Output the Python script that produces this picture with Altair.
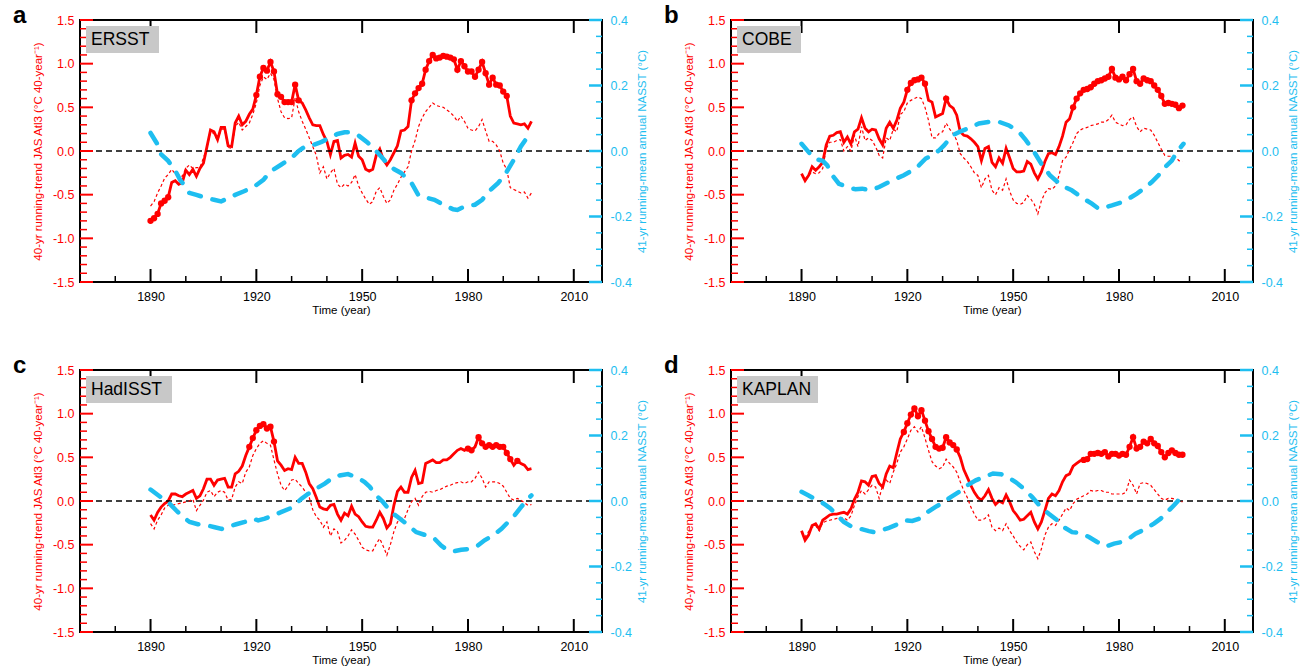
import altair as alt
import pandas as pd

FONT = "Liberation Sans"
RED = "#ff0000"
CYAN = "#1ebef0"
W, H = 522, 262

YEARS = list(range(1890, 1999))

X_MAJOR = [1890, 1920, 1950, 1980, 2010]
X_MINOR = [1880, 1900, 1910, 1930, 1940, 1960, 1970, 1990, 2000]
L_MAJOR = [-1.5, -1.0, -0.5, 0.0, 0.5, 1.0, 1.5]
L_MINOR = [-1.4, -1.3, -1.2, -1.1, -0.9, -0.8, -0.7, -0.6, -0.4, -0.3, -0.2, -0.1,
           0.1, 0.2, 0.3, 0.4, 0.6, 0.7, 0.8, 0.9, 1.1, 1.2, 1.3, 1.4]
R_MAJOR = [-0.4, -0.2, 0.0, 0.2, 0.4]
R_MINOR = [-0.35, -0.3, -0.25, -0.15, -0.1, -0.05, 0.05, 0.1, 0.15, 0.25, 0.3, 0.35]

# ---------------- ERSST ----------------
ERSST_TREND = [
    -0.80, -0.77, -0.72, -0.60, -0.57, -0.53, -0.36, -0.34, -0.38, -0.36,
    -0.22, -0.27, -0.21, -0.29, -0.20, -0.14, 0.05, 0.24, 0.22, 0.13,
    0.27, 0.27, 0.06, 0.05, 0.32, 0.40, 0.30, 0.34, 0.42, 0.48,
    0.64, 0.85, 0.95, 0.92, 1.02, 0.91, 0.65, 0.62, 0.56, 0.56,
    0.56, 0.76, 0.58, 0.55, 0.47, 0.38, 0.30, 0.29, 0.29, 0.19,
    0.11, -0.04, 0.11, 0.12, -0.08, -0.05, -0.04, -0.07, 0.09, -0.06,
    -0.10, -0.21, -0.23, -0.21, -0.05, 0.02, -0.10, -0.16, -0.10, -0.02,
    0.06, 0.23, 0.24, 0.28, 0.58, 0.66, 0.72, 0.77, 0.93, 1.03,
    1.10, 1.06, 1.07, 1.09, 1.08, 1.07, 1.05, 0.93, 1.03, 0.97,
    0.91, 0.91, 0.85, 0.93, 1.02, 0.89, 0.76, 0.84, 0.76, 0.75,
    0.68, 0.63, 0.40, 0.32, 0.31, 0.30, 0.31, 0.26, 0.34]
ERSST_DOTTED = [
    -0.63, -0.58, -0.48, -0.40, -0.31, -0.27, -0.21, -0.26, -0.27, -0.29,
    -0.20, -0.16, -0.20, -0.19, -0.19, -0.08, 0.04, 0.22, 0.20, 0.12,
    0.25, 0.25, 0.04, 0.03, 0.28, 0.33, 0.24, 0.28, 0.32, 0.42,
    0.55, 0.75, 0.85, 0.82, 0.89, 0.82, 0.60, 0.45, 0.38, 0.37,
    0.38, 0.61, 0.45, 0.34, 0.25, 0.15, 0.05, -0.05, -0.25, -0.18,
    -0.32, -0.25, -0.20, -0.38, -0.42, -0.38, -0.40, -0.36, -0.27, -0.40,
    -0.48, -0.55, -0.61, -0.58, -0.46, -0.42, -0.52, -0.60, -0.56, -0.45,
    -0.38, -0.30, -0.24, -0.18, 0.00, 0.12, 0.28, 0.38, 0.45, 0.50,
    0.55, 0.52, 0.51, 0.50, 0.47, 0.44, 0.40, 0.34, 0.40, 0.34,
    0.26, 0.24, 0.23, 0.28, 0.36, 0.23, 0.11, 0.11, 0.07, 0.00,
    -0.14, -0.21, -0.42, -0.44, -0.46, -0.48, -0.47, -0.54, -0.48]
ERSST_NASST = [
    (1890, 0.055), (1892, 0.02), (1893, -0.01), (1895, -0.03), (1897, -0.06),
    (1898.5, -0.09), (1900, -0.11), (1901, -0.128), (1903, -0.134), (1906, -0.144),
    (1908, -0.149), (1910, -0.154), (1912, -0.144), (1914, -0.134), (1916.5, -0.123),
    (1919.5, -0.108), (1922, -0.088), (1924, -0.062), (1927, -0.042), (1930, -0.021),
    (1932, 0.0), (1934, 0.015), (1936, 0.018), (1938.5, 0.028), (1941, 0.042),
    (1943, 0.052), (1945, 0.057), (1947, 0.057), (1949, 0.047), (1951.5, 0.026),
    (1954.5, -0.006), (1957, -0.037), (1959, -0.055), (1961, -0.067), (1964, -0.098),
    (1966, -0.136), (1968, -0.142), (1970.5, -0.149), (1973, -0.164), (1975.8, -0.178),
    (1977, -0.18), (1979.5, -0.167), (1982, -0.164), (1984, -0.149), (1986, -0.123),
    (1988.5, -0.098), (1990.5, -0.072), (1993, -0.027), (1995, 0.014), (1998, 0.06)]
ERSST_SIG = (list(range(1890, 1896)) + list(range(1920, 1933)) + list(range(1964, 1992)))

# ---------------- COBE ----------------
COBE_TREND = [
    -0.26, -0.34, -0.28, -0.18, -0.22, -0.18, -0.13, 0.07, 0.17, 0.18,
    0.21, 0.22, 0.10, 0.16, 0.08, 0.22, 0.25, 0.38, 0.26, 0.22,
    0.25, 0.24, 0.14, 0.07, 0.26, 0.33, 0.26, 0.35, 0.49, 0.56,
    0.70, 0.78, 0.81, 0.82, 0.84, 0.77, 0.58, 0.56, 0.39, 0.41,
    0.43, 0.60, 0.52, 0.49, 0.41, 0.22, 0.18, 0.17, 0.14, 0.10,
    0.05, -0.11, 0.03, 0.05, -0.13, -0.18, -0.08, -0.14, 0.03, -0.08,
    -0.20, -0.24, -0.24, -0.23, -0.12, -0.15, -0.25, -0.32, -0.24, -0.12,
    -0.03, -0.02, -0.04, 0.05, 0.17, 0.33, 0.37, 0.50, 0.60, 0.66,
    0.70, 0.71, 0.73, 0.77, 0.80, 0.81, 0.83, 0.85, 0.94, 0.84,
    0.82, 0.85, 0.81, 0.88, 0.94, 0.80, 0.77, 0.83, 0.81, 0.80,
    0.75, 0.70, 0.63, 0.54, 0.55, 0.54, 0.53, 0.49, 0.52]
COBE_DOTTED = [
    -0.27, -0.32, -0.28, -0.24, -0.26, -0.25, -0.20, 0.03, 0.10, 0.10,
    0.12, 0.13, 0.00, 0.05, 0.00, 0.18, 0.05, 0.28, 0.12, 0.15,
    0.12, 0.05, -0.05, -0.08, 0.15, 0.12, 0.25, 0.22, 0.42, 0.45,
    0.55, 0.58, 0.60, 0.62, 0.60, 0.50, 0.35, 0.15, 0.15, 0.20,
    0.22, 0.32, 0.25, 0.20, 0.12, -0.03, -0.08, -0.12, -0.18, -0.25,
    -0.28, -0.42, -0.32, -0.28, -0.45, -0.50, -0.42, -0.45, -0.32, -0.46,
    -0.56, -0.60, -0.61, -0.59, -0.51, -0.55, -0.61, -0.72, -0.57, -0.48,
    -0.43, -0.44, -0.40, -0.28, -0.11, -0.07, 0.02, 0.10, 0.20, 0.24,
    0.26, 0.27, 0.29, 0.30, 0.31, 0.33, 0.33, 0.36, 0.41, 0.33,
    0.31, 0.29, 0.30, 0.36, 0.39, 0.28, 0.22, 0.26, 0.25, 0.24,
    0.18, 0.10, 0.02, -0.05, -0.06, -0.06, -0.07, -0.11, -0.12]
COBE_NASST = [
    (1890, 0.022), (1891.6, 0.002), (1893.5, -0.023), (1896, -0.03), (1897.3, -0.044),
    (1898.7, -0.074), (1900.6, -0.10), (1903, -0.11), (1905.3, -0.117), (1907.2, -0.115),
    (1909.6, -0.12), (1912, -0.11), (1913.8, -0.10), (1916.7, -0.085), (1919, -0.074),
    (1921.4, -0.059), (1923.3, -0.044), (1925.2, -0.023), (1927.1, -0.013), (1929, 0.002),
    (1930.4, 0.017), (1932.8, 0.048), (1934.7, 0.058), (1937.5, 0.07), (1940.3, 0.084),
    (1943.2, 0.089), (1946, 0.089), (1948.8, 0.078), (1951.7, 0.058), (1953.6, 0.033),
    (1955.5, 0.005), (1958, -0.039), (1960.4, -0.074), (1963.7, -0.105), (1966.6, -0.12),
    (1969.4, -0.141), (1972.3, -0.161), (1974.2, -0.176), (1976.1, -0.172), (1978, -0.166),
    (1980.3, -0.158), (1982.7, -0.146), (1985.1, -0.13), (1987, -0.115), (1989.3, -0.095),
    (1991.2, -0.074), (1993.1, -0.049), (1995, -0.029), (1996.4, -0.003), (1998.3, 0.022)]
COBE_SIG = list(range(1920, 1926)) + [1931] + list(range(1967, 1999))

# ---------------- HadISST ----------------
HAD_TREND = [
    -0.16, -0.22, -0.13, -0.07, -0.03, 0.00, 0.08, 0.08, 0.06, 0.05,
    0.08, 0.10, 0.12, 0.03, 0.06, 0.14, 0.25, 0.25, 0.18, 0.24,
    0.25, 0.26, 0.16, 0.16, 0.31, 0.34, 0.40, 0.52, 0.62, 0.72,
    0.81, 0.86, 0.88, 0.83, 0.85, 0.68, 0.46, 0.41, 0.35, 0.37,
    0.36, 0.50, 0.43, 0.43, 0.33, 0.20, 0.14, 0.04, -0.07, -0.09,
    -0.10, -0.05, -0.04, -0.15, -0.22, -0.14, -0.17, -0.06, -0.15, -0.18,
    -0.24, -0.29, -0.30, -0.30, -0.22, -0.13, -0.20, -0.31, -0.26, -0.05,
    0.11, 0.16, 0.10, 0.10, 0.27, 0.35, 0.20, 0.21, 0.43, 0.45,
    0.47, 0.44, 0.44, 0.47, 0.47, 0.50, 0.54, 0.58, 0.60, 0.58,
    0.60, 0.58, 0.62, 0.73, 0.66, 0.62, 0.64, 0.62, 0.64, 0.62,
    0.62, 0.55, 0.48, 0.41, 0.46, 0.43, 0.41, 0.36, 0.37]
HAD_DOTTED = [
    -0.26, -0.32, -0.22, -0.16, -0.08, -0.05, -0.05, -0.04, -0.03, -0.02,
    -0.01, 0.00, 0.02, -0.11, -0.05, 0.01, 0.10, 0.12, 0.05, 0.10,
    0.12, 0.10, 0.01, 0.02, 0.16, 0.22, 0.20, 0.33, 0.39, 0.52,
    0.60, 0.66, 0.69, 0.66, 0.64, 0.47, 0.31, 0.18, 0.12, 0.17,
    0.24, 0.25, 0.20, 0.16, 0.10, 0.04, -0.10, -0.18, -0.22, -0.30,
    -0.24, -0.40, -0.32, -0.35, -0.48, -0.45, -0.40, -0.33, -0.38, -0.45,
    -0.53, -0.56, -0.57, -0.57, -0.49, -0.43, -0.52, -0.62, -0.50, -0.35,
    -0.24, -0.20, -0.20, -0.10, -0.01, 0.03, -0.05, 0.05, 0.10, 0.11,
    0.10, 0.12, 0.13, 0.15, 0.17, 0.18, 0.20, 0.21, 0.22, 0.20,
    0.22, 0.22, 0.26, 0.33, 0.26, 0.16, 0.22, 0.22, 0.22, 0.20,
    0.17, 0.10, 0.03, 0.01, 0.03, 0.01, -0.02, -0.05, -0.04]
HAD_NASST = [
    (1890, 0.035), (1891.6, 0.022), (1893.5, 0.007), (1895.4, -0.008), (1897.3, -0.029),
    (1899.2, -0.049), (1901.1, -0.064), (1903.4, -0.071), (1905.8, -0.074), (1908.2, -0.08),
    (1910.2, -0.085), (1912.4, -0.077), (1914.3, -0.071), (1916.7, -0.064), (1919, -0.054),
    (1920.5, -0.059), (1922.4, -0.054), (1924.7, -0.044), (1927, -0.034), (1929.5, -0.023),
    (1931.3, -0.008), (1932.8, 0.007), (1934.7, 0.022), (1937, 0.038), (1939.4, 0.053),
    (1941.3, 0.068), (1943.6, 0.078), (1946, 0.082), (1948.4, 0.073), (1950.7, 0.058),
    (1952.2, 0.043), (1953.5, 0.022), (1955.9, -0.003), (1958.2, -0.034), (1960.1, -0.049),
    (1962.5, -0.069), (1965.3, -0.095), (1968.2, -0.105), (1970.5, -0.115), (1972.4, -0.136),
    (1974.3, -0.151), (1976.2, -0.153), (1978.1, -0.149), (1980.5, -0.146), (1982.8, -0.136),
    (1984.7, -0.12), (1987.1, -0.105), (1989.5, -0.085), (1991.4, -0.064), (1993.2, -0.044),
    (1995.1, -0.018), (1997, 0.007), (1998, 0.017)]
HAD_SIG = (list(range(1918, 1926)) +
           [1980, 1981, 1983, 1984, 1985, 1986, 1987, 1988, 1989, 1990, 1991, 1992, 1994])

# ---------------- KAPLAN ----------------
KAP_TREND = [
    -0.34, -0.45, -0.39, -0.28, -0.26, -0.32, -0.22, -0.19, -0.16, -0.15,
    -0.15, -0.14, -0.13, -0.15, -0.09, 0.02, 0.10, 0.23, 0.22, 0.18,
    0.28, 0.29, 0.20, 0.16, 0.31, 0.40, 0.38, 0.55, 0.71, 0.79,
    0.89, 0.99, 1.06, 0.97, 1.04, 0.92, 0.80, 0.71, 0.62, 0.60,
    0.61, 0.73, 0.67, 0.64, 0.59, 0.50, 0.36, 0.27, 0.18, 0.10,
    0.04, 0.01, 0.06, 0.13, 0.03, -0.04, 0.00, -0.02, 0.07, -0.01,
    -0.11, -0.16, -0.22, -0.21, -0.17, -0.13, -0.24, -0.32, -0.24, -0.11,
    0.03, 0.08, 0.06, 0.12, 0.22, 0.29, 0.31, 0.40, 0.43, 0.46,
    0.47, 0.48, 0.54, 0.54, 0.55, 0.54, 0.56, 0.51, 0.54, 0.54,
    0.52, 0.54, 0.53, 0.62, 0.73, 0.60, 0.62, 0.68, 0.66, 0.71,
    0.66, 0.63, 0.56, 0.50, 0.55, 0.58, 0.55, 0.53, 0.53]
KAP_DOTTED = [
    -0.35, -0.41, -0.35, -0.30, -0.28, -0.34, -0.25, -0.23, -0.22, -0.21,
    -0.20, -0.20, -0.19, -0.22, -0.17, -0.05, 0.05, 0.12, 0.08, 0.13,
    0.18, 0.16, 0.03, 0.18, 0.24, 0.20, 0.33, 0.43, 0.56, 0.62,
    0.71, 0.81, 0.85, 0.79, 0.85, 0.72, 0.58, 0.45, 0.40, 0.37,
    0.39, 0.48, 0.43, 0.39, 0.33, 0.22, 0.12, 0.04, -0.07, -0.15,
    -0.22, -0.22, -0.20, -0.16, -0.30, -0.34, -0.31, -0.34, -0.26, -0.34,
    -0.40, -0.47, -0.52, -0.56, -0.50, -0.47, -0.58, -0.66, -0.55, -0.39,
    -0.30, -0.26, -0.28, -0.22, -0.15, -0.08, -0.11, -0.03, 0.02, 0.04,
    0.06, 0.08, 0.12, 0.11, 0.12, 0.12, 0.10, 0.10, 0.08, 0.08,
    0.08, 0.08, 0.10, 0.24, 0.18, 0.08, 0.20, 0.21, 0.20, 0.18,
    0.13, 0.08, 0.03, 0.01, 0.03, 0.03, 0.02, 0.01, -0.01]
KAP_NASST = [
    (1890, 0.028), (1892, 0.017), (1894.4, 0.002), (1896.3, -0.008), (1898.2, -0.023),
    (1900.1, -0.044), (1902, -0.064), (1904.4, -0.08), (1906.7, -0.085), (1909.1, -0.092),
    (1910.5, -0.095), (1912.4, -0.09), (1914.8, -0.082), (1917.2, -0.071), (1919.5, -0.059),
    (1921.4, -0.061), (1923.3, -0.054), (1925.7, -0.034), (1928, -0.018), (1929.9, -0.006),
    (1932.3, 0.012), (1934.7, 0.028), (1937, 0.048), (1939.4, 0.063), (1941.7, 0.073),
    (1944.3, 0.084), (1946.5, 0.082), (1948.5, 0.073), (1950.7, 0.058), (1953, 0.038),
    (1955.4, 0.012), (1957.8, -0.018), (1960.1, -0.039), (1962.5, -0.059), (1964.4, -0.08),
    (1966.7, -0.095), (1969.1, -0.098), (1971.5, -0.11), (1973.8, -0.125), (1976.2, -0.139),
    (1978.6, -0.13), (1980.9, -0.125), (1982.8, -0.115), (1984.7, -0.10), (1987.6, -0.085),
    (1989.9, -0.069), (1991.8, -0.054), (1993.7, -0.034), (1995.6, -0.013), (1997, 0.004),
    (1998, 0.014)]
KAP_SIG = list(range(1919, 1935)) + list(range(1970, 1999))

MINUS_FIX = "replace(datum.label, '\u2212', '-')"
LBL = 12.5
TTL = 11.5


def build_panel(letter, name, box_w, trend, dotted, nasst, sig):
    xs = alt.Scale(domain=[1870, 2018], nice=False, zero=False)
    ls = alt.Scale(domain=[-1.5, 1.5], nice=False, zero=False)
    rs = alt.Scale(domain=[-0.4, 0.4], nice=False, zero=False)

    df_tr = pd.DataFrame({"year": YEARS, "v": trend})
    df_dt = pd.DataFrame({"year": YEARS, "v": dotted})
    df_sig = df_tr[df_tr["year"].isin(sig)]
    df_cy = pd.DataFrame(nasst, columns=["year", "v"])

    x_axis = alt.Axis(orient="bottom", values=X_MAJOR, format="d", ticks=False, domain=False,
                      grid=False, labelFont=FONT, labelFontSize=LBL, labelColor="black",
                      labelPadding=8, labelFlush=False,
                      title="Time (year)", titleFont=FONT, titleFontSize=TTL,
                      titleFontWeight="normal", titleColor="black", titlePadding=2)
    left_axis = alt.Axis(orient="left", values=L_MAJOR, format=".1f", labelExpr=MINUS_FIX,
                         ticks=False, domain=False, grid=False, labelFont=FONT,
                         labelFontSize=LBL, labelColor=RED, labelPadding=6, labelFlush=False,
                         labelOverlap=False,
                         title="40-yr running-trend JAS Atl3 (\u00b0C 40-year\u207b\u00b9)",
                         titleFont=FONT, titleFontSize=TTL, titleFontWeight="normal",
                         titleColor=RED, titlePadding=9)
    right_axis = alt.Axis(orient="right", values=R_MAJOR, format=".1f", labelExpr=MINUS_FIX,
                          ticks=False, domain=False, grid=False, labelFont=FONT,
                          labelFontSize=LBL, labelColor=CYAN, labelPadding=8, labelFlush=False,
                          labelOverlap=False,
                          title="41-yr running-mean annual NASST (\u00b0C)", titleFont=FONT,
                          titleFontSize=TTL, titleFontWeight="normal", titleColor=CYAN,
                          titlePadding=5, titleAngle=270, titleBaseline="top")

    xa = alt.X("year:Q", scale=xs, axis=x_axis)
    yl = alt.Y("v:Q", scale=ls, axis=None)
    yr = alt.Y("v:Q", scale=rs, axis=None)

    sline = alt.Chart(df_tr).mark_line(color=RED, strokeWidth=2.8).encode(
        x=xa, y=alt.Y("v:Q", scale=ls, axis=left_axis))
    cline = alt.Chart(df_cy).mark_line(
        color=CYAN, strokeWidth=4.5, strokeDash=[12, 12], strokeCap="round").encode(
        x=xa, y=alt.Y("v:Q", scale=rs, axis=right_axis))
    zero = alt.Chart(pd.DataFrame({"v": [0.0]})).mark_rule(
        color="black", strokeDash=[6, 4], strokeWidth=1.3).encode(y=yl)
    dline = alt.Chart(df_dt).mark_line(color=RED, strokeWidth=1.2, strokeDash=[3, 2.5]).encode(
        x=xa, y=yl)
    dots = alt.Chart(df_sig).mark_circle(color=RED, size=40, opacity=1).encode(x=xa, y=yl)

    xb_maj = alt.Chart(pd.DataFrame({"year": X_MAJOR})).mark_rule(
        color="black", strokeWidth=2).encode(x=xa, y=alt.value(H), y2=alt.value(H - 13))
    xb_min = alt.Chart(pd.DataFrame({"year": X_MINOR})).mark_rule(
        color="black", strokeWidth=1.5).encode(x=xa, y=alt.value(H), y2=alt.value(H - 6))
    xt_maj = alt.Chart(pd.DataFrame({"year": X_MAJOR})).mark_rule(
        color="black", strokeWidth=2).encode(x=xa, y=alt.value(0), y2=alt.value(13))
    l_maj = alt.Chart(pd.DataFrame({"v": L_MAJOR})).mark_rule(
        color=RED, strokeWidth=2).encode(y=yl, x=alt.value(0), x2=alt.value(13))
    l_min = alt.Chart(pd.DataFrame({"v": L_MINOR})).mark_rule(
        color=RED, strokeWidth=1.5).encode(y=yl, x=alt.value(0), x2=alt.value(7))
    r_maj = alt.Chart(pd.DataFrame({"v": R_MAJOR})).mark_rule(
        color=CYAN, strokeWidth=2.5).encode(y=yr, x=alt.value(W - 13), x2=alt.value(W))
    r_min = alt.Chart(pd.DataFrame({"v": R_MINOR})).mark_rule(
        color=CYAN, strokeWidth=1.5).encode(y=yr, x=alt.value(W - 6), x2=alt.value(W))

    box = alt.Chart(pd.DataFrame({"k": [0]})).mark_rect(color="#c8c8c8").encode(
        x=alt.value(6), x2=alt.value(6 + box_w), y=alt.value(6), y2=alt.value(33))
    label = alt.Chart(pd.DataFrame({"k": [0]})).mark_text(
        text=name, font=FONT, fontSize=17.5, align="left", baseline="middle",
        color="black").encode(x=alt.value(11), y=alt.value(20))
    tag = alt.Chart(pd.DataFrame({"k": [0]})).mark_text(
        text=letter, font=FONT, fontSize=24, fontWeight="bold", align="left",
        baseline="alphabetic", color="black").encode(x=alt.value(-67), y=alt.value(3))

    return alt.layer(sline, zero, xb_maj, xb_min, xt_maj, l_maj, l_min, dline, dots,
                     cline, r_maj, r_min, box, label, tag).resolve_scale(
        y="independent").properties(width=W, height=H)


pa = build_panel("a", "ERSST", 73, ERSST_TREND, ERSST_DOTTED, ERSST_NASST, ERSST_SIG)
pb = build_panel("b", "COBE", 64, COBE_TREND, COBE_DOTTED, COBE_NASST, COBE_SIG)
pc = build_panel("c", "HadISST", 86, HAD_TREND, HAD_DOTTED, HAD_NASST, HAD_SIG)
pd_ = build_panel("d", "KAPLAN", 81, KAP_TREND, KAP_DOTTED, KAP_NASST, KAP_SIG)

chart = alt.concat(pa, pb, pc, pd_, columns=2, spacing={"row": 88, "column": 129},
                   bounds="flush").properties(
    padding={"left": 12, "top": 3, "right": 0, "bottom": 0}
).configure_view(stroke="black", strokeWidth=2)

chart.save("out.html", embed_options={"renderer": "svg", "actions": False})
